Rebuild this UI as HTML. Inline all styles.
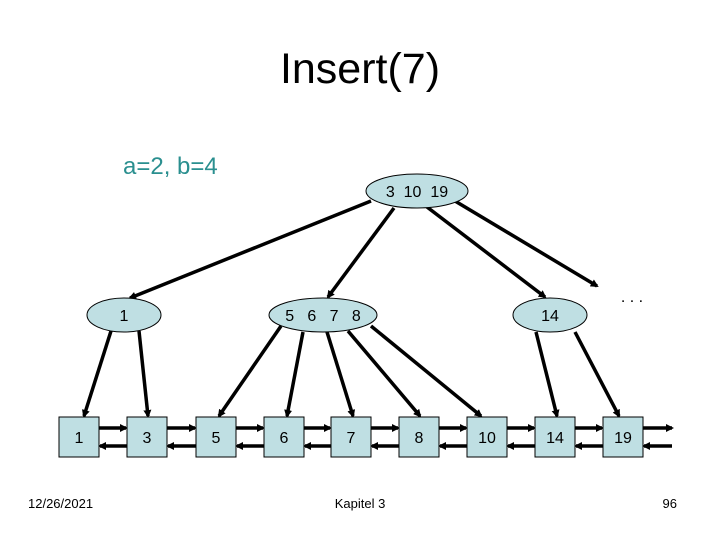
<!DOCTYPE html>
<html><head><meta charset="utf-8"><style>
body{margin:0;background:#fff}
svg{display:block}
text{font-family:"Liberation Sans",Arial,sans-serif}
</style></head><body>
<svg width="720" height="540" viewBox="0 0 720 540" xmlns="http://www.w3.org/2000/svg">
<defs><marker id="a" markerWidth="8" markerHeight="8" refX="6" refY="4" orient="auto" markerUnits="userSpaceOnUse"><path d="M0,0 L8,4 L0,8 z" fill="#000"/></marker></defs>
<text x="360" y="83" font-size="43" text-anchor="middle">Insert(7)</text>
<text x="123" y="174" font-size="24" fill="#2a8f8f">a=2, b=4</text>
<g stroke="#000" stroke-width="3.5" marker-end="url(#a)">
<line x1="371" y1="201" x2="130" y2="298"/>
<line x1="394" y1="208" x2="328" y2="297"/>
<line x1="427" y1="207" x2="545" y2="297"/>
<line x1="455" y1="201" x2="597" y2="286"/>
<line x1="111" y1="331" x2="84" y2="416"/>
<line x1="139" y1="331" x2="148" y2="416"/>
<line x1="281" y1="326" x2="219" y2="416"/>
<line x1="303" y1="332" x2="287" y2="416"/>
<line x1="327" y1="332" x2="353" y2="416"/>
<line x1="348" y1="331" x2="420" y2="416"/>
<line x1="371" y1="326" x2="481" y2="416"/>
<line x1="536" y1="332" x2="557" y2="416"/>
<line x1="575" y1="332" x2="619" y2="416"/>
</g>
<g stroke="#000" stroke-width="3.5" marker-end="url(#a)">
<line x1="99" y1="428" x2="126" y2="428"/><line x1="127" y1="446" x2="100" y2="446"/>
<line x1="167" y1="428" x2="195" y2="428"/><line x1="196" y1="446" x2="168" y2="446"/>
<line x1="236" y1="428" x2="263" y2="428"/><line x1="264" y1="446" x2="237" y2="446"/>
<line x1="304" y1="428" x2="330" y2="428"/><line x1="331" y1="446" x2="305" y2="446"/>
<line x1="371" y1="428" x2="398" y2="428"/><line x1="399" y1="446" x2="372" y2="446"/>
<line x1="439" y1="428" x2="466" y2="428"/><line x1="467" y1="446" x2="440" y2="446"/>
<line x1="507" y1="428" x2="534" y2="428"/><line x1="535" y1="446" x2="508" y2="446"/>
<line x1="575" y1="428" x2="602" y2="428"/><line x1="603" y1="446" x2="576" y2="446"/>
<line x1="643" y1="428" x2="672" y2="428"/><line x1="672" y1="446" x2="644" y2="446"/>
</g>
<g fill="#bfdfe3" stroke="#000" stroke-width="1">
<ellipse cx="417" cy="191" rx="51" ry="17"/>
<ellipse cx="124" cy="315" rx="37" ry="17"/>
<ellipse cx="323" cy="315" rx="54" ry="17"/>
<ellipse cx="550" cy="315" rx="37" ry="17"/>
<rect x="59" y="417" width="40" height="40"/>
<rect x="127" y="417" width="40" height="40"/>
<rect x="196" y="417" width="40" height="40"/>
<rect x="264" y="417" width="40" height="40"/>
<rect x="331" y="417" width="40" height="40"/>
<rect x="399" y="417" width="40" height="40"/>
<rect x="467" y="417" width="40" height="40"/>
<rect x="535" y="417" width="40" height="40"/>
<rect x="603" y="417" width="40" height="40"/>
</g>
<g font-size="16" text-anchor="middle">
<text x="417" y="197" xml:space="preserve">3  10  19</text>
<text x="124" y="321">1</text>
<text x="323" y="321" xml:space="preserve">5   6   7   8</text>
<text x="550" y="321">14</text>
<text x="79" y="443">1</text><text x="147" y="443">3</text><text x="216" y="443">5</text>
<text x="284" y="443">6</text><text x="351" y="443">7</text><text x="419" y="443">8</text>
<text x="487" y="443">10</text><text x="555" y="443">14</text><text x="623" y="443">19</text>
<text x="632" y="302">. . .</text>
</g>
<g font-size="13">
<text x="28" y="508">12/26/2021</text>
<text x="360" y="508" text-anchor="middle">Kapitel 3</text>
<text x="677" y="508" text-anchor="end">96</text>
</g>
</svg>
</body></html>
